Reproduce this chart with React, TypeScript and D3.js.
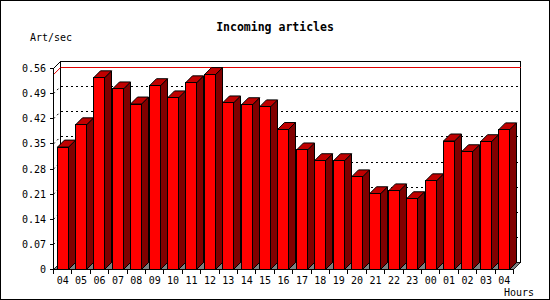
import React from "react";
import * as d3 from "d3";

const categories = ["04","05","06","07","08","09","10","11","12","13","14","15","16","17","18","19","20","21","22","23","00","01","02","03","04"];
const values = [0.341,0.403,0.534,0.503,0.461,0.512,0.478,0.520,0.543,0.464,0.459,0.453,0.390,0.333,0.303,0.303,0.258,0.211,0.219,0.197,0.247,0.358,0.328,0.356,0.389];
const yTicks = [0, 0.07, 0.14, 0.21, 0.28, 0.35, 0.42, 0.49, 0.56];
const title = "Incoming articles";
const yTitle = "Art/sec";
const xTitle = "Hours";

const W = 550, H = 300;
const DX = 7, DY = 7;
const FONT = "'DejaVu Sans Mono', 'Liberation Mono', monospace";

export default function App() {
  const idx = d3.range(categories.length);
  const x = d3.scaleBand<number>().domain(idx).range([53.5, 513.5]).paddingInner(0).paddingOuter(0);
  const y = d3.scaleLinear().domain([0, 0.56]).range([269.5, 68.5]);
  const bw = x.bandwidth();
  const x0 = x.range()[0], x1 = x.range()[1];
  const y0 = y(0), yTop = y(0.56);
  const maxV = d3.max(values) as number;

  return (
    <svg width={W} height={H} style={{ position: "absolute", left: 0, top: 0, background: "#fff" }} shapeRendering="crispEdges">
      <rect x={0.5} y={0.5} width={W - 1} height={H - 1} fill="#fff" stroke="#000" />
      <text x={275} y={30.5} textAnchor="middle" fontFamily={FONT} fontWeight="bold" fontSize={11.5} fill="#000">{title}</text>
      <text x={30} y={40.5} fontFamily={FONT} fontSize={10} fill="#000">{yTitle}</text>

      {/* back plane */}
      <rect x={x0 + DX} y={yTop - DY} width={x1 - x0} height={y0 - yTop} fill="#fff" stroke="#000" />
      {/* grid lines */}
      {yTicks.slice(1, -1).map((t, i) => (
        <g key={"g" + i}>
          <line x1={x0 + DX} x2={x1 + DX} y1={y(t) - DY} y2={y(t) - DY} stroke="#000" strokeDasharray="2,3" />
          <line x1={x0} x2={x0 + DX} y1={y(t)} y2={y(t) - DY} stroke="#000" strokeDasharray="2,3" shapeRendering="auto" />
        </g>
      ))}
      {/* max line */}
      <line x1={x0 + DX} x2={x1 + DX} y1={y(maxV) - DY} y2={y(maxV) - DY} stroke="#e00000" />
      <line x1={x0} x2={x0 + DX} y1={y(maxV)} y2={y(maxV) - DY} stroke="#e00000" shapeRendering="auto" />
      {/* left wall edges */}
      <line x1={x0} x2={x0 + DX} y1={yTop} y2={yTop - DY} stroke="#000" shapeRendering="auto" />
      {/* floor */}
      <polygon points={`${x0},${y0} ${x1},${y0} ${x1 + DX},${y0 - DY} ${x0 + DX},${y0 - DY}`} fill="#808080" stroke="#000" strokeWidth={0.8} shapeRendering="auto" />

      {/* bars */}
      {values.map((v, i) => {
        const fx = Math.round(x(i)! + bw * 0.17) + 0.5;
        const fw = Math.round(bw * 0.6);
        const ty = y(v);
        const side = `${fx + fw},${ty} ${fx + fw + DX},${ty - DY} ${fx + fw + DX},${y0 - DY} ${fx + fw},${y0}`;
        const top = `${fx},${ty} ${fx + DX},${ty - DY} ${fx + fw + DX},${ty - DY} ${fx + fw},${ty}`;
        return (
          <g key={"b" + i} stroke="#000" strokeWidth={1}>
            <polygon points={side} fill="#800000" shapeRendering="auto" />
            <polygon points={top} fill="#c00000" shapeRendering="auto" />
            <rect x={fx} y={ty} width={fw} height={y0 - ty} fill="#ff0000" />
          </g>
        );
      })}

      {/* y axis */}
      <line x1={x0} x2={x0} y1={yTop} y2={y0} stroke="#000" />
      {yTicks.map((t, i) => (
        <g key={"yt" + i}>
          <line x1={x0 - 4} x2={x0} y1={y(t)} y2={y(t)} stroke="#000" />
          <text x={46} y={y(t) + 3.5} textAnchor="end" fontFamily={FONT} fontSize={10} fill="#000">{t === 0 ? "0" : t.toFixed(2)}</text>
        </g>
      ))}
      {/* x axis */}
      <line x1={x0} x2={x1} y1={y0} y2={y0} stroke="#000" />
      {d3.range(categories.length + 1).map((i) => {
        const tx = x0 + i * bw;
        return <line key={"xt" + i} x1={tx} x2={tx} y1={y0} y2={y0 + 4} stroke="#000" />;
      })}
      {categories.map((c, i) => (
        <text key={"xl" + i} x={x(i)! + bw / 2} y={284} textAnchor="middle" fontFamily={FONT} fontSize={10} fill="#000">{c}</text>
      ))}
      <text x={534} y={296} textAnchor="end" fontFamily={FONT} fontSize={10} fill="#000">{xTitle}</text>
    </svg>
  );
}
